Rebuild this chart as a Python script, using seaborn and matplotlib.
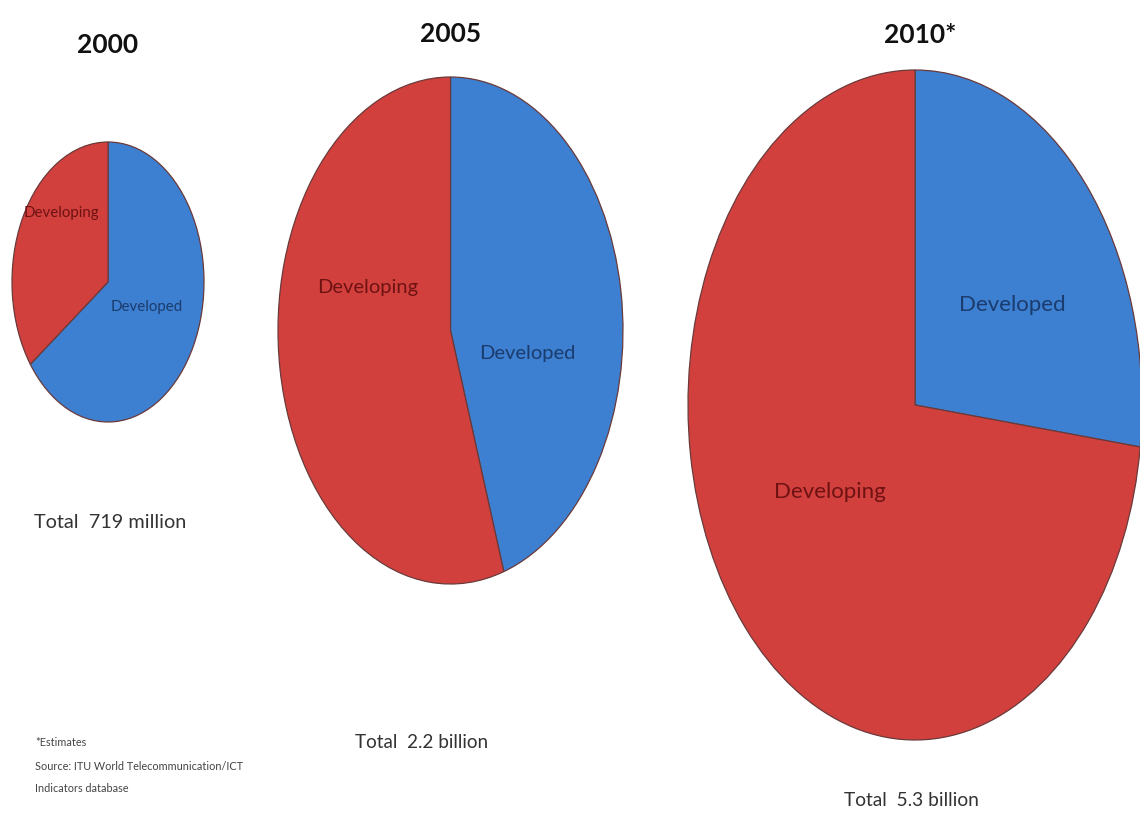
import matplotlib
matplotlib.use("Agg")
import matplotlib.pyplot as plt
import seaborn as sns

# ---- data ----
years = ["2000", "2005", "2010*"]
totals = ["Total  719 million", "Total  2.2 billion", "Total  5.3 billion"]
categories = ["Developed", "Developing"]
developed = [65, 45, 27]
developing = [35, 55, 73]
footnote = ["*Estimates", "Source: ITU World Telecommunication/ICT", "Indicators database"]

sns.set_theme(style="white")
plt.rcParams["font.family"] = ["Lato", "DejaVu Sans"]

W, H = 1140, 814
fig = plt.figure(figsize=(W / 100, H / 100), dpi=100)
fig.patch.set_facecolor("white")

def fx(px):
    return px / W

def fy(py):
    return 1 - py / H

colors = ["#3D7FD0", "#D2403E"]
label_colors = ["#1B3C6E", "#6E1212"]

# pie boxes in pixel coordinates (left, top, right, bottom)
boxes = [(12, 142, 204, 422), (278, 77, 623, 584), (688, 70, 1142, 740)]
title_pos = [(108, 45), (451, 34), (920, 35)]
total_pos = [(110, 523), (422, 743), (911, 800)]
label_pos = [
    [(147, 307), (61, 213)],
    [(527, 354), (368, 287)],
    [(1012, 305), (830, 492)],
]
label_size = [10.8, 14.5, 16]
total_size = [14.3, 13.6, 13.8]

for i in range(3):
    l, t, r, b = boxes[i]
    ax = fig.add_axes([fx(l), fy(b), fx(r - l), (b - t) / H])
    ax.pie([developed[i], developing[i]], colors=colors, startangle=90,
           counterclock=False, radius=1,
           wedgeprops=dict(edgecolor="#6a3a3a", linewidth=0.9, clip_on=False))
    ax.set_aspect("auto")
    ax.set_xlim(-1, 1)
    ax.set_ylim(-1, 1)
    ax.axis("off")
    for j, name in enumerate(categories):
        px, py = label_pos[i][j]
        fig.text(fx(px), fy(py), name, ha="center", va="center",
                 fontsize=label_size[i], color=label_colors[j])
    tx, ty = title_pos[i]
    fig.text(fx(tx), fy(ty), years[i], ha="center", va="center",
             fontsize=19, fontweight="bold", color="#111111")
    sx, sy = total_pos[i]
    fig.text(fx(sx), fy(sy), totals[i], ha="center", va="center",
             fontsize=total_size[i], color="#333333")

for k, line in enumerate(footnote):
    fig.text(fx(35), fy(743 + k * 23), line, ha="left", va="center",
             fontsize=7.8, color="#444444")

fig.savefig("out.png", dpi=100, facecolor="white")
